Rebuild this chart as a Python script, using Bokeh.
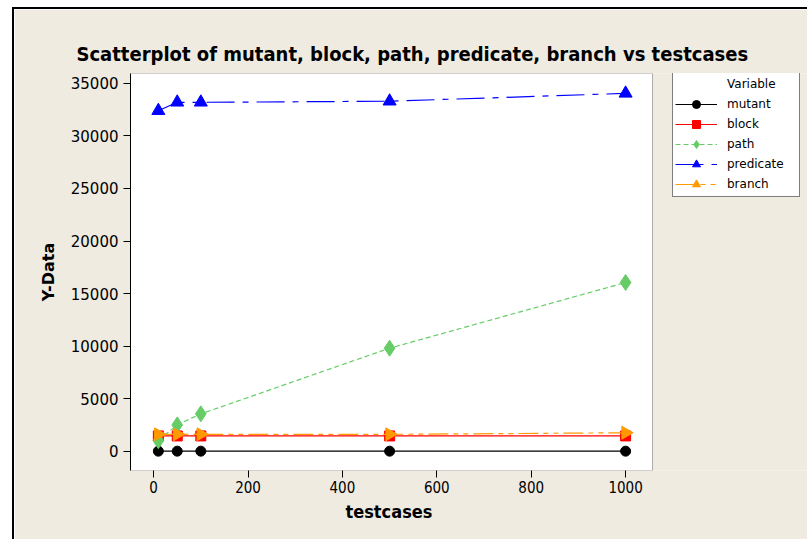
import math
from bokeh.plotting import figure
from bokeh.models import (Range1d, Legend, LegendItem, FixedTicker, BoxAnnotation,
                          Title)
from bokeh.embed import file_html
from bokeh.resources import INLINE

# ---- data ----
testcases = [10, 50, 100, 500, 1000]
mutant = [0, 0, 0, 0, 0]
block = [1450, 1450, 1450, 1450, 1450]
path = [1000, 2500, 3550, 9800, 16050]
predicate = [32400, 33200, 33200, 33300, 34050]
branch = [1600, 1600, 1600, 1600, 1750]
x_ticks = [0, 200, 400, 600, 800, 1000]
y_ticks = [0, 5000, 10000, 15000, 20000, 25000, 30000, 35000]

X_LO, X_HI = -49, 1057        # visible data box
Y_LO, Y_HI = -1840, 35940
BG = "#EFEBE1"

# frame widened to the right edge so the legend sits inside it (not clipped)
p = figure(frame_width=677, frame_height=397, output_backend="svg",
           toolbar_location=None,
           x_range=Range1d(X_LO, X_LO + (X_HI - X_LO) * 677 / 522),
           y_range=Range1d(Y_LO, Y_HI),
           min_border_left=116, min_border_top=64, min_border_right=0,
           min_border_bottom=69,
           background_fill_color=BG, border_fill_color=BG)
p.margin = (7, 0, 0, 12)
p.styles = {"border-left": "2px solid black", "border-top": "2px solid black",
            "box-sizing": "content-box"}
p.outline_line_color = None

# white plotting box with black outline
p.add_layout(BoxAnnotation(left=X_LO, right=X_HI, bottom=Y_LO, top=Y_HI,
                           fill_color="white", fill_alpha=1,
                           line_color="black", line_width=1, level="underlay"))

p.title.text = "Scatterplot of mutant, block, path, predicate, branch vs testcases"
p.title.text_font = "DejaVu Sans Condensed"
p.title.text_font_style = "bold"
p.title.text_font_size = "20px"
p.title.text_color = "black"
p.title.align = "left"
p.title.offset = -54
p.title.standoff = 15

p.xgrid.visible = False
p.ygrid.visible = False

for ax in (p.xaxis[0], p.yaxis[0]):
    ax.major_tick_line_color = "black"
    ax.major_tick_out = 7
    ax.major_tick_in = 0
    ax.minor_tick_line_color = None
    ax.major_label_text_color = "black"
    ax.axis_label_text_color = "black"
    ax.axis_label_text_font_style = "bold"
p.xaxis.axis_line_color = None
p.yaxis.axis_line_color = "black"

p.xaxis.ticker = FixedTicker(ticks=x_ticks)
p.yaxis.ticker = FixedTicker(ticks=y_ticks)
p.xaxis.major_label_text_font = "DejaVu Sans Condensed"
p.xaxis.major_label_text_font_size = "15px"
p.yaxis.major_label_text_font = "DejaVu Sans"
p.yaxis.major_label_text_font_size = "15px"
p.xaxis.major_label_standoff = 3
p.yaxis.major_label_standoff = 5
p.yaxis.axis_label = "Y-Data"
p.yaxis.axis_label_text_font = "DejaVu Sans"
p.yaxis.axis_label_text_font_size = "16px"
p.yaxis.axis_label_standoff = 10

xlab = Title(text="testcases", align="left", offset=215, standoff=7,
             text_font="DejaVu Sans Condensed", text_font_size="18px",
             text_font_style="bold", text_color="black")
p.add_layout(xlab, "below")

series = [
    ("mutant", mutant, "black", "solid", "circle", 10, 0),
    ("block", block, "#FF0000", "solid", "square", 10, 0),
    ("path", path, "#66CC66", "5 3", "diamond", 16, 0),
    ("predicate", predicate, "#0000FF", "28 8 6 8", "triangle", 13, 0),
    ("branch", branch, "#FF9900", "20 5 5 5 5 5", "triangle", 13, -math.pi / 2),
]

items = []
dummy = p.line(x=[0], y=[0], line_alpha=0)
items.append(LegendItem(label="Variable", renderers=[dummy]))
for name, ys, col, dash, marker, size, ang in series:
    ln = p.line(testcases, ys, line_color=col, line_width=1.2, line_dash=dash)
    sc = p.scatter(testcases, ys, marker=marker, size=size, angle=ang,
                   fill_color=col, line_color=col)
    items.append(LegendItem(label=name, renderers=[ln, sc]))

legend = Legend(items=items, location=(542, 273))
legend.glyph_width = 42
legend.glyph_height = 20
legend.label_height = 19
legend.spacing = 0
legend.padding = 2
legend.margin = 0
legend.label_standoff = 10
legend.label_width = 70
legend.label_text_font = "DejaVu Sans"
legend.label_text_font_size = "12px"
legend.label_text_color = "black"
legend.border_line_color = "black"
legend.border_line_width = 1
legend.background_fill_color = "white"
legend.background_fill_alpha = 1
p.add_layout(legend)

open("out.html", "w").write(file_html(p, INLINE))
